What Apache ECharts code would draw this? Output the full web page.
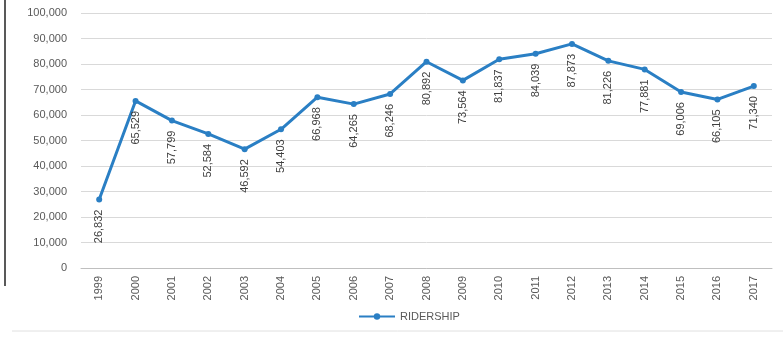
<!DOCTYPE html>
<html><head><meta charset="utf-8">
<script src="https://cdn.jsdelivr.net/npm/echarts@6/dist/echarts.min.js"></script>
<style>html,body{margin:0;padding:0;background:#fff}#c{width:783px;height:341px}</style>
</head><body><div id="c"></div>
<script>
const years = ['1999','2000','2001','2002','2003','2004','2005','2006','2007','2008','2009','2010','2011','2012','2013','2014','2015','2016','2017'];
const ridership = [26832,65529,57799,52584,46592,54403,66968,64265,68246,80892,73564,81837,84039,87873,81226,77881,69006,66105,71340];
const seriesName = 'RIDERSHIP';

const chart = echarts.init(document.getElementById('c'));
chart.setOption({
  animation:false,
  textStyle:{fontFamily:'Liberation Sans, Arial, sans-serif'},
  grid:{left:81,right:11,top:13,bottom:73},
  legend:{bottom:14,left:353,itemWidth:36,itemHeight:8,itemGap:4,
    textStyle:{color:'#595959',fontSize:11},data:[seriesName]},
  xAxis:{type:'category',data:years,boundaryGap:true,
    axisLine:{lineStyle:{color:'#bfbfbf'}},axisTick:{show:false},
    axisLabel:{rotate:90,color:'#595959',fontSize:11,margin:8}},
  yAxis:{type:'value',min:0,max:100000,interval:10000,
    axisLine:{show:false},axisTick:{show:false},
    splitLine:{lineStyle:{color:'#d9d9d9'}},
    axisLabel:{color:'#595959',fontSize:11,margin:14,
      formatter:v=>v.toLocaleString('en-US')}},
  series:[{name:seriesName,type:'line',data:ridership,
    lineStyle:{color:'#2a7fc4',width:3},
    itemStyle:{color:'#2a7fc4'},symbol:'circle',symbolSize:6,
    label:{show:true,position:'bottom',rotate:90,align:'right',verticalAlign:'middle',distance:7,
      color:'#404040',fontSize:11,formatter:p=>p.value.toLocaleString('en-US')}}],
  graphic:[
    {type:'line',shape:{x1:5,y1:0,x2:5,y2:286},style:{stroke:'#222',lineWidth:1.5}},
    {type:'line',shape:{x1:12,y1:331,x2:783,y2:331},style:{stroke:'#e0e0e0',lineWidth:1}}
  ]
});
</script></body></html>
